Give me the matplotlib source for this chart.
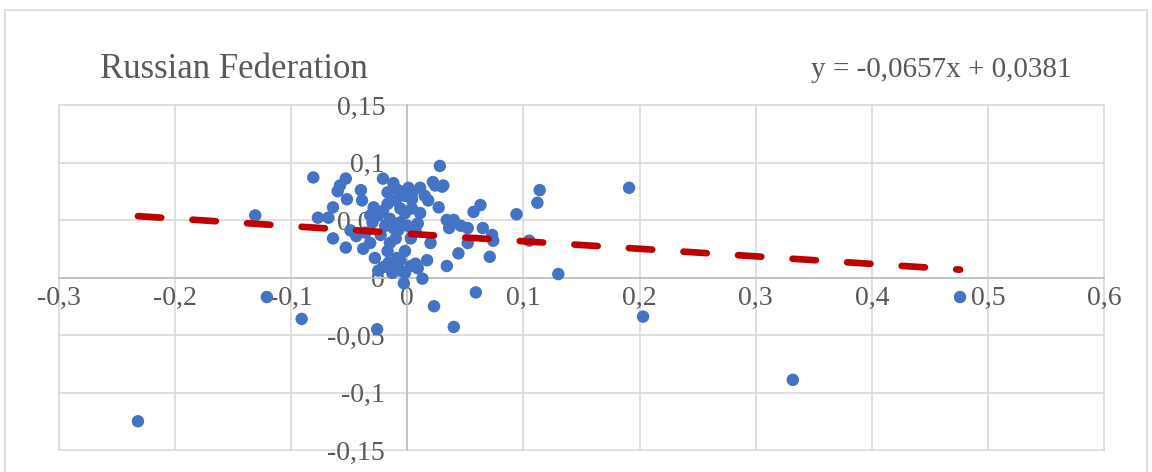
import numpy as np
import matplotlib
matplotlib.use("Agg")
import matplotlib.pyplot as plt
from matplotlib.patches import Rectangle

plt.rcParams['font.family'] = ['Liberation Serif', 'DejaVu Serif']

# values (x = change, y = return)
x_vals = [-0.232, -0.131, -0.121, -0.091, -0.081, -0.026, 0.023, 0.040, 0.059, 0.203,
          0.332, 0.476, 0.191, 0.130, 0.114, 0.112, 0.094, 0.105, 0.063, 0.065,
          0.073, 0.074, 0.071, 0.036, 0.052, 0.052, 0.020, 0.044, 0.034, 0.017,
          0.007, 0.013, -0.003, 0.028, 0.011, 0.024, 0.030, 0.004, 0.004, 0.027,
          0.057, 0.009, 0.034, 0.040, 0.046, -0.053, -0.058, -0.060, -0.040, -0.052,
          -0.039, -0.021, -0.012, -0.017, 0.001, -0.064, -0.077, -0.068, -0.029, -0.017,
          -0.006, -0.015, 0.000, -0.064, -0.053, -0.038, -0.028, -0.032, -0.015, -0.009,
          -0.021, -0.006, 0.003, 0.007, -0.012, -0.017, -0.008, 0.022, 0.031, -0.008,
          -0.002, -0.010, -0.002, 0.004, -0.006, -0.019, -0.023, -0.010, -0.002, -0.006,
          0.003, -0.010, -0.025, 0.009, -0.002, -0.049, -0.044, -0.036, -0.030, -0.025,
          -0.021, -0.032, 0.015, 0.018, 0.011, -0.013, -0.016]
y_vals = [-0.125, 0.054, -0.017, -0.036, 0.087, -0.045, -0.025, -0.043, -0.013, -0.034,
          -0.089, -0.017, 0.078, 0.003, 0.076, 0.065, 0.055, 0.032, 0.063, 0.043,
          0.037, 0.032, 0.018, 0.043, 0.043, 0.030, 0.030, 0.021, 0.010, 0.015,
          0.012, -0.001, -0.005, 0.097, 0.078, 0.080, 0.079, 0.073, 0.068, 0.061,
          0.057, 0.047, 0.050, 0.050, 0.045, 0.086, 0.080, 0.075, 0.076, 0.068,
          0.067, 0.086, 0.082, 0.074, 0.078, 0.061, 0.052, 0.052, 0.061, 0.064,
          0.060, 0.051, 0.045, 0.034, 0.026, 0.025, 0.017, 0.030, 0.030, 0.017,
          0.009, 0.006, 0.034, 0.041, 0.043, 0.023, 0.041, 0.083, 0.080, 0.076,
          0.071, 0.067, 0.056, 0.060, 0.048, 0.045, 0.037, 0.034, 0.023, 0.015,
          0.010, 0.010, 0.006, 0.008, 0.004, 0.041, 0.036, 0.039, 0.048, 0.054,
          0.058, 0.054, 0.071, 0.067, 0.056, 0.004, 0.013]

# linear trend as printed on the chart
slope = -0.0657
intercept = 0.0381

x_ticks = [-0.3, -0.2, -0.1, 0, 0.1, 0.2, 0.3, 0.4, 0.5, 0.6]
x_labels = ['-0,3', '-0,2', '-0,1', '0', '0,1', '0,2', '0,3', '0,4', '0,5', '0,6']
y_ticks = [-0.15, -0.1, -0.05, 0, 0.05, 0.1, 0.15]
y_labels = ['-0,15', '-0,1', '-0,05', '0', '0,05', '0,1', '0,15']

text_color = '#595959'

fig = plt.figure(figsize=(11.52, 4.72), dpi=100)
fig.patches.append(Rectangle((0.004, -0.1), 0.992, 1.079, transform=fig.transFigure,
                             fill=False, edgecolor='#D9D9D9', lw=1.2))

ax = fig.add_axes([59 / 1152, 1 - 450 / 472, (1104 - 59) / 1152, (450 - 105) / 472])
ax.set_xlim(-0.3, 0.6)
ax.set_ylim(-0.15, 0.15)

for spine in ['top', 'right']:
    ax.spines[spine].set_visible(False)
ax.spines['left'].set_position(('data', 0))
ax.spines['bottom'].set_position(('data', 0))
for spine in ['left', 'bottom']:
    ax.spines[spine].set_color('#BFBFBF')
    ax.spines[spine].set_linewidth(1.2)
    ax.spines[spine].set_zorder(1)

ax.set_xticks(x_ticks)
ax.set_xticklabels(x_labels)
ax.set_yticks(y_ticks)
ax.set_yticklabels(y_labels)
ax.tick_params(axis='both', length=0, labelsize=20, labelcolor=text_color)
ax.tick_params(axis='x', pad=6)
ax.tick_params(axis='y', pad=16)

ax.grid(True, color='#D9D9D9', linewidth=1.2, zorder=0)
for gl in ax.get_xgridlines() + ax.get_ygridlines():
    gl.set_clip_on(False)
ax.set_axisbelow(True)

ax.scatter(x_vals, y_vals, s=80, color='#4472C4', edgecolors='none', zorder=3)

xs = np.array([min(x_vals), max(x_vals)])
ax.plot(xs, slope * xs + intercept, color='#C00000', lw=4.8, dashes=(3.5, 4.7),
        dash_capstyle='round', zorder=4)

fig.text(100 / 1152, 1 - 70 / 472, 'Russian Federation', fontsize=25, color=text_color,
         ha='left', va='center')
fig.text(1072 / 1152, 1 - 70 / 472, 'y = -0,0657x + 0,0381', fontsize=21, color=text_color,
         ha='right', va='center')

fig.savefig('out.png', dpi=100)
